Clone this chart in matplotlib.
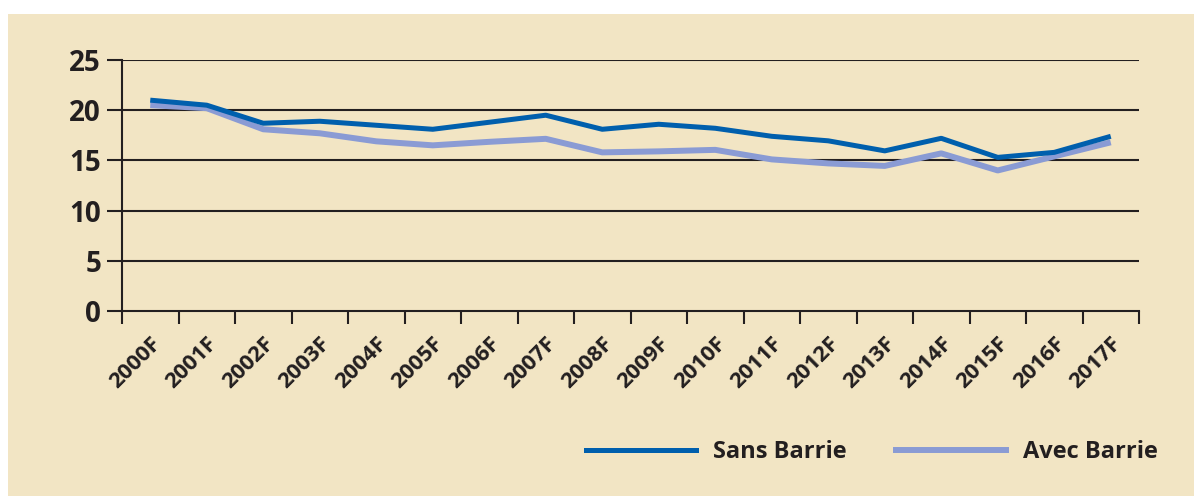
import matplotlib
matplotlib.use('Agg')
import matplotlib.pyplot as plt
from matplotlib.lines import Line2D

years = ['2000F', '2001F', '2002F', '2003F', '2004F', '2005F', '2006F', '2007F', '2008F',
         '2009F', '2010F', '2011F', '2012F', '2013F', '2014F', '2015F', '2016F', '2017F']
sans_barrie = [21.0, 20.5, 18.7, 18.9, 18.5, 18.1, 18.8, 19.5, 18.1,
               18.6, 18.2, 17.4, 16.95, 15.95, 17.2, 15.3, 15.8, 17.4]
avec_barrie = [20.5, 20.2, 18.1, 17.7, 16.9, 16.5, 16.85, 17.15, 15.8,
               15.9, 16.05, 15.1, 14.7, 14.45, 15.7, 14.0, 15.4, 16.8]
y_ticks = [0, 5, 10, 15, 20, 25]

bg = '#f2e5c4'
ink = '#231f20'
dark_blue = '#005fad'
light_blue = '#8a9bd4'
plt.rcParams['font.family'] = ['Open Sans', 'DejaVu Sans']

fig = plt.figure(figsize=(11.94, 4.96), dpi=100)
fig.patch.set_facecolor('white')
fig.patches.append(plt.Rectangle((8 / 1194, 0), 1 - 8 / 1194, 1 - 14 / 496,
                                 transform=fig.transFigure, facecolor=bg, edgecolor='none', zorder=-10))

ax = fig.add_axes([122 / 1194, 1 - 311 / 496, (1139 - 122) / 1194, (311 - 60) / 496])
ax.set_facecolor('none')

x = [i + 0.5 for i in range(len(years))]
ax.plot(x, avec_barrie, color=light_blue, lw=4.3, solid_capstyle='butt', zorder=3)
ax.plot(x, sans_barrie, color=dark_blue, lw=3.6, solid_capstyle='butt', zorder=4)

ax.set_xlim(0, len(years))
ax.set_ylim(0, 25)
for yv in y_ticks[1:]:
    ax.axhline(yv, color=ink, lw=1.5, zorder=1)

ax.set_yticks(y_ticks)
ax.set_yticklabels([str(v) for v in y_ticks], fontsize=20, fontweight='bold', color=ink)
ax.tick_params(axis='y', direction='out', length=11, width=1.5, color=ink, pad=4)

ax.set_xticks(range(len(years) + 1))
ax.set_xticklabels([])
ax.set_xticks(x, minor=True)
ax.set_xticklabels(years, minor=True, rotation=45, ha='right', rotation_mode='anchor',
                   fontsize=16, fontweight='bold', color=ink)
ax.tick_params(axis='x', which='major', direction='out', length=9, width=1.5, color=ink)
ax.tick_params(axis='x', which='minor', length=0, pad=16)

for s in ['top', 'right']:
    ax.spines[s].set_visible(False)
for s in ['left', 'bottom']:
    ax.spines[s].set_color(ink)
    ax.spines[s].set_linewidth(1.5)

handles = [Line2D([], [], color=dark_blue, lw=3.6),
           Line2D([], [], color=light_blue, lw=4.3)]
leg = fig.legend(handles, ['Sans Barrie', 'Avec Barrie'], loc='center', ncol=2,
                 bbox_to_anchor=(872 / 1194, 1 - 452 / 496), frameon=False,
                 handlelength=4.66, handletextpad=0.72, columnspacing=2.1,
                 prop={'size': 17, 'weight': 'bold'})
for t in leg.get_texts():
    t.set_color(ink)

fig.savefig('out.png', dpi=100, facecolor='white')
